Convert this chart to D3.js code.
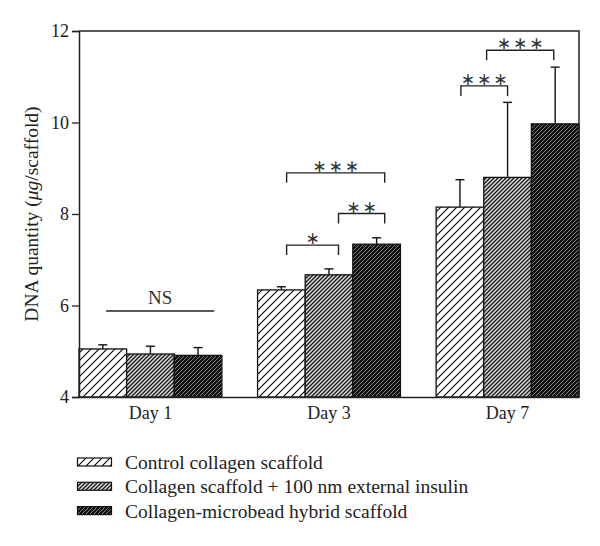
<!DOCTYPE html>
<html><head><meta charset="utf-8">
<script src="https://cdn.jsdelivr.net/npm/d3@7"></script>
<style>body{margin:0;background:#fff}svg{display:block}</style>
</head><body>
<script>
const days = ["Day 1", "Day 3", "Day 7"];
const seriesNames = ["Control collagen scaffold", "Collagen scaffold + 100 nm external insulin", "Collagen-microbead hybrid scaffold"];
const control = [5.05, 6.34, 8.15];
const controlErr = [0.09, 0.07, 0.60];
const insulin = [4.94, 6.67, 8.80];
const insulinErr = [0.17, 0.13, 1.64];
const hybrid = [4.91, 7.34, 9.97];
const hybridErr = [0.17, 0.14, 1.24];
const yTicks = [4, 6, 8, 10, 12];
// brackets: day index, from/to in bar-width units from group's left edge, y level, label
const brackets = [
  {day: 0, from: 0.57, to: 2.84, y: 5.88, label: "NS", legs: false},
  {day: 1, from: 0.61, to: 1.70, y: 7.32, label: "∗", legs: true},
  {day: 1, from: 1.70, to: 2.67, y: 8.01, label: "∗∗", legs: true},
  {day: 1, from: 0.61, to: 2.67, y: 8.90, label: "∗∗∗", legs: true},
  {day: 2, from: 0.52, to: 1.50, y: 10.80, label: "∗∗∗", legs: true},
  {day: 2, from: 1.06, to: 2.47, y: 11.58, label: "∗∗∗", legs: true}
];

const W = 600, H = 546;
const m = {left: 79, right: 21, top: 31, bottom: 149};
const svg = d3.select("body").append("svg").attr("width", W).attr("height", H);
const font = "'Liberation Serif', 'DejaVu Serif', serif";

const defs = svg.append("defs");
function hatch(id, size, bg, fg, sw) {
  const p = defs.append("pattern").attr("id", id).attr("patternUnits", "userSpaceOnUse")
    .attr("width", size).attr("height", size);
  p.append("rect").attr("width", size).attr("height", size).attr("fill", bg);
  p.append("path").attr("d", `M0,${size} L${size},0 M${-size/2},${size/2} L${size/2},${-size/2} M${size/2},${size*1.5} L${size*1.5},${size/2}`)
    .attr("stroke", fg).attr("stroke-width", sw);
}
hatch("p0", 8, "#fff", "#000", 1.1);
hatch("p1", 4, "#d8d8d8", "#1a1a1a", 1.3);
hatch("p2", 4, "#111", "#8a8a8a", 0.9);
const fills = ["url(#p0)", "url(#p1)", "url(#p2)"];

const x0 = d3.scaleBand().domain(days).range([m.left, W - m.right]).paddingInner(0.2).paddingOuter(0);
const x1 = d3.scaleBand().domain([0, 1, 2]).range([0, x0.bandwidth()]);
const y = d3.scaleLinear().domain([4, 12]).range([H - m.bottom, m.top]);
const bw = x1.bandwidth();

const series = [control, insulin, hybrid];
const errs = [controlErr, insulinErr, hybridErr];
const data = [];
days.forEach((d, i) => series.forEach((s, k) => data.push({day: d, k, v: s[i], e: errs[k][i]})));

// error bars
const eb = svg.append("g").attr("stroke", "#111").attr("stroke-width", 1.4);
data.forEach(d => {
  const cx = x0(d.day) + x1(d.k) + bw / 2;
  eb.append("line").attr("x1", cx).attr("x2", cx).attr("y1", y(d.v)).attr("y2", y(d.v + d.e));
  eb.append("line").attr("x1", cx - 4.5).attr("x2", cx + 4.5).attr("y1", y(d.v + d.e)).attr("y2", y(d.v + d.e));
});

svg.append("g").selectAll("rect").data(data).join("rect")
  .attr("x", d => x0(d.day) + x1(d.k))
  .attr("y", d => y(d.v))
  .attr("width", bw)
  .attr("height", d => y(4) - y(d.v))
  .attr("fill", d => fills[d.k])
  .attr("stroke", "#111").attr("stroke-width", 1.3);

// frame
const fr = svg.append("g").attr("stroke", "#222").attr("stroke-width", 1.5).attr("fill", "none");
fr.append("path").attr("d", `M${m.left},${m.top} H${W - m.right} V${H - m.bottom}`);

// y axis
const ya = svg.append("g").attr("transform", `translate(${m.left},0)`)
  .call(d3.axisLeft(y).tickValues(yTicks).tickSize(7).tickPadding(3).tickFormat(d3.format("d")));
ya.select(".domain").attr("stroke", "#222").attr("stroke-width", 1.5);
ya.selectAll(".tick line").attr("stroke", "#222").attr("stroke-width", 1.3);
ya.selectAll("text").attr("font-family", font).attr("font-size", 18).attr("fill", "#222");

// x axis
const xa = svg.append("g").attr("transform", `translate(0,${H - m.bottom})`)
  .call(d3.axisBottom(x0).tickSize(0).tickPadding(9));
xa.select(".domain").attr("stroke", "#222").attr("stroke-width", 1.5);
xa.selectAll("text").attr("font-family", font).attr("font-size", 18).attr("fill", "#222");

// y label
const yl = svg.append("text").attr("transform", `translate(38,${(m.top + H - m.bottom) / 2}) rotate(-90)`)
  .attr("text-anchor", "middle").attr("font-family", font).attr("font-size", 19.5).attr("fill", "#222");
yl.append("tspan").text("DNA quantity (");
yl.append("tspan").attr("font-style", "italic").text("μg");
yl.append("tspan").text("/scaffold)");

// brackets
const bg = svg.append("g");
brackets.forEach(b => {
  const xa_ = x0(days[b.day]) + b.from * bw, xb = x0(days[b.day]) + b.to * bw, yy = y(b.y);
  const d = b.legs ? `M${xa_},${yy + 10} V${yy} H${xb} V${yy + 10}` : `M${xa_},${yy} H${xb}`;
  bg.append("path").attr("d", d).attr("fill", "none").attr("stroke", "#222").attr("stroke-width", 1.4);
  const t = bg.append("text").attr("text-anchor", "middle").attr("fill", "#333").text(b.label);
  if (b.label === "NS") t.attr("x", (xa_ + xb) / 2).attr("y", yy - 7).attr("font-size", 19).attr("font-family", font);
  else t.attr("x", (xa_ + xb) / 2 + 1).attr("y", yy - 1).attr("font-size", 17)
    .attr("font-family", "'DejaVu Sans', sans-serif").attr("letter-spacing", 2);
});

// legend
const lg = svg.append("g");
seriesNames.forEach((n, k) => {
  const yy = 458 + k * 24.3;
  lg.append("rect").attr("x", 77.5).attr("y", yy).attr("width", 34).attr("height", 8)
    .attr("fill", fills[k]).attr("stroke", "#111").attr("stroke-width", 1.2);
  lg.append("text").attr("x", 125).attr("y", yy + 11).attr("font-family", font)
    .attr("font-size", 19.5).attr("fill", "#222").text(n);
});
</script>
</body></html>
